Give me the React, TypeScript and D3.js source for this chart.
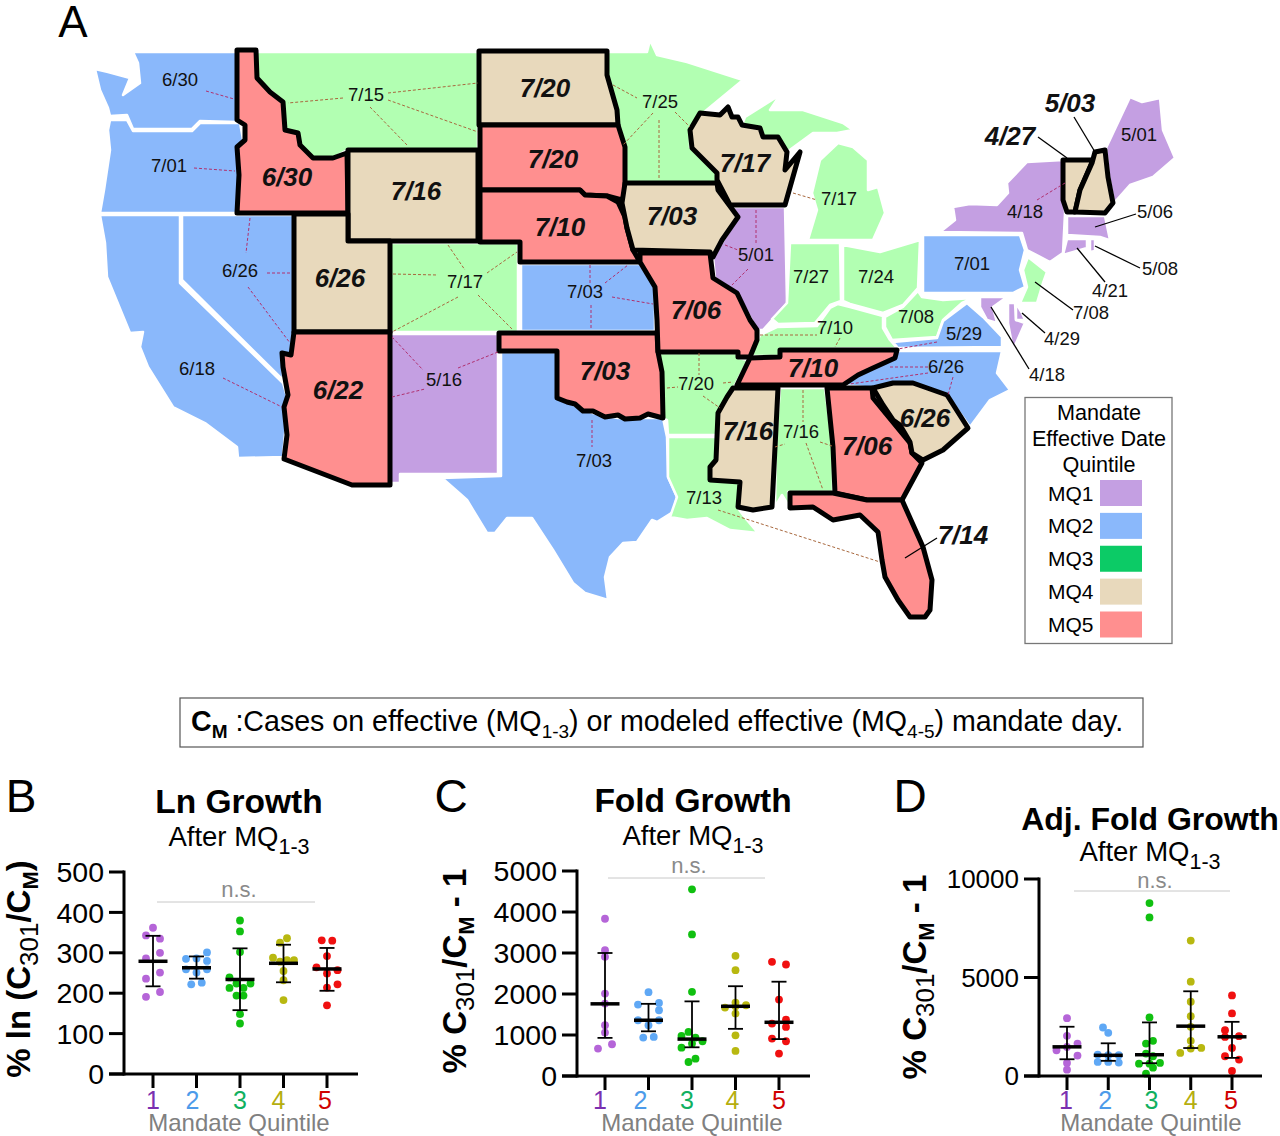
import React from "react";
import * as d3 from "d3";

type Pt = [number, number];
const FONT = "'Liberation Sans', Arial, sans-serif";

// ---------- map data (state outlines in map units) ----------
const outlineWA: Pt[] = [[133,52],[237,52],[237,122],[200,121],[192,129],[133,129],[127,115],[110,116],[108,108],[100,90],[95,69],[108,72],[130,78],[123,95],[140,83],[138,63]];
const outlineOR: Pt[] = [[110,120],[127,120],[133,131],[192,131],[200,123],[240,123],[245,150],[240,213],[100,213],[104,190],[110,150],[108,130]];
const outlineCA: Pt[] = [[100,215],[180,215],[180,283],[283,383],[288,400],[283,457],[238,458],[237,447],[205,423],[173,407],[148,367],[140,347],[143,332],[130,333],[107,277],[105,243]];
const outlineNV: Pt[] = [[182,215],[295,215],[295,332],[290,355],[283,353],[283,380],[182,280]];
const outlineID: Pt[] = [[237,50],[256,50],[257,78],[270,92],[283,102],[285,130],[298,133],[300,145],[313,158],[333,158],[347,153],[348,213],[237,213],[239,175],[237,147],[245,140],[245,125],[237,120]];
const outlineMT: Pt[] = [[256,52],[478,52],[478,150],[347,150],[333,158],[313,158],[300,145],[298,133],[285,130],[283,102],[257,78]];
const outlineWY: Pt[] = [[348,150],[478,150],[478,241],[348,241]];
const outlineUT: Pt[] = [[294,214],[348,214],[348,241],[390,241],[390,332],[294,332]];
const outlineCO: Pt[] = [[390,243],[518,243],[518,332],[390,332]];
const outlineAZ: Pt[] = [[294,332],[390,332],[390,485],[352,485],[284,459],[287,435],[284,407],[288,395],[283,367],[282,353],[291,355]];
const outlineNM: Pt[] = [[390,334],[498,334],[498,474],[400,474],[400,483],[390,483]];
const outlineTX: Pt[] = [[501,352],[557,352],[557,398],[567,402],[593,413],[618,418],[663,418],[667,437],[668,477],[677,497],[673,512],[657,522],[652,520],[637,542],[623,543],[610,557],[605,577],[608,600],[585,593],[573,583],[553,550],[532,518],[507,518],[495,533],[487,533],[467,500],[458,492],[442,478],[501,476]];
const outlineOK: Pt[] = [[499,333],[657,333],[658,352],[662,372],[663,418],[648,414],[640,418],[625,419],[618,415],[605,417],[593,411],[583,411],[575,404],[567,402],[557,398],[557,351],[499,351]];
const outlineKS: Pt[] = [[521,264],[640,264],[655,287],[655,331],[521,331]];
const outlineNE: Pt[] = [[480,190],[580,190],[585,195],[607,196],[618,202],[625,217],[627,228],[633,250],[640,262],[520,262],[520,242],[480,242]];
const outlineSD: Pt[] = [[480,125],[618,125],[625,147],[625,193],[622,200],[607,196],[585,195],[580,190],[480,190]];
const outlineND: Pt[] = [[479,51],[607,51],[607,75],[617,110],[618,125],[479,125]];
const outlineMN: Pt[] = [[608,52],[647,52],[650,40],[657,55],[687,62],[743,80],[703,113],[690,127],[690,147],[717,173],[717,183],[625,183],[625,147],[618,125],[617,110],[607,75]];
const outlineIA: Pt[] = [[625,183],[717,183],[718,190],[738,217],[722,240],[713,257],[710,252],[633,250],[627,228],[622,203]];
const outlineWI: Pt[] = [[690,130],[700,113],[720,115],[728,107],[732,117],[738,117],[742,125],[760,128],[763,137],[778,137],[787,152],[785,170],[800,152],[785,205],[730,205],[717,180],[717,173],[692,148]];
const outlineIL: Pt[] = [[730,207],[785,207],[787,303],[772,320],[763,330],[757,330],[750,317],[737,293],[715,278],[713,257],[738,217]];
const outlineMO: Pt[] = [[640,253],[710,253],[713,278],[737,293],[750,320],[757,330],[757,340],[750,357],[738,357],[738,352],[658,352],[657,320],[655,287],[640,262]];
const outlineAR: Pt[] = [[659,353],[738,353],[738,358],[748,360],[735,385],[727,397],[718,413],[717,435],[668,435],[667,420],[663,418],[662,372]];
const outlineLA: Pt[] = [[668,437],[717,437],[715,460],[710,480],[740,482],[737,507],[747,520],[758,533],[730,530],[707,518],[687,520],[670,517],[677,497],[668,477]];
const outlineMS: Pt[] = [[733,388],[778,388],[772,507],[753,510],[738,507],[740,482],[710,480],[710,467],[716,460],[718,413],[727,397]];
const outlineAL: Pt[] = [[780,388],[825,388],[833,447],[833,492],[788,492],[790,508],[782,495],[775,507],[776,440]];
const outlineTN: Pt[] = [[737,385],[750,358],[780,357],[780,350],[897,350],[895,358],[873,368],[858,375],[843,385]];
const outlineGA: Pt[] = [[827,388],[872,388],[873,398],[910,443],[912,453],[922,463],[902,500],[867,500],[835,493],[833,447]];
const outlineSC: Pt[] = [[873,388],[893,383],[913,383],[947,395],[968,428],[943,450],[923,460],[912,453],[910,442],[900,425],[893,420],[883,405]];
const outlineFL: Pt[] = [[790,493],[833,493],[867,500],[902,500],[923,547],[932,580],[930,610],[925,617],[910,617],[898,600],[885,577],[882,560],[878,532],[860,515],[833,520],[813,507],[790,508]];
const outlineKY: Pt[] = [[760,335],[777,327],[817,326],[830,308],[838,304],[850,307],[883,316],[883,328],[890,340],[897,348],[780,349],[780,356],[751,356]];
const outlineIN: Pt[] = [[790,243],[840,243],[841,301],[830,305],[815,323],[778,324],[772,319],[787,303]];
const outlineOH: Pt[] = [[843,245],[880,252],[920,240],[918,288],[903,305],[883,313],[850,304],[843,301]];
const outlineWV: Pt[] = [[885,317],[903,307],[918,291],[922,297],[943,300],[973,298],[962,303],[943,320],[937,337],[892,340],[885,327]];
const outlineVA: Pt[] = [[893,342],[937,338],[943,321],[967,303],[983,317],[1002,337],[1002,347],[898,348]];
const outlineNC: Pt[] = [[898,351],[1002,351],[997,373],[1010,390],[990,400],[970,427],[947,395],[913,383],[893,383],[873,388],[843,385],[858,375],[873,368],[895,358]];
const outlinePA: Pt[] = [[923,235],[1020,235],[1025,250],[1020,270],[1025,287],[1013,293],[923,293]];
const outlineNY: Pt[] = [[940,232],[955,220],[953,207],[970,204],[997,205],[1008,193],[1007,183],[1027,162],[1063,160],[1065,213],[1063,253],[1050,262],[1027,250],[1022,233]];
const outlineVT: Pt[] = [[1063,160],[1093,160],[1080,190],[1075,212],[1067,212],[1063,200]];
const outlineNH: Pt[] = [[1095,152],[1105,150],[1108,177],[1113,203],[1105,213],[1075,212],[1080,190],[1092,163]];
const outlineME: Pt[] = [[1106,148],[1130,97],[1142,102],[1160,98],[1163,130],[1175,158],[1153,177],[1130,185],[1114,203],[1109,177]];
const outlineMA: Pt[] = [[1067,216],[1105,216],[1110,240],[1118,243],[1100,237],[1067,235]];
const outlineCT: Pt[] = [[1067,239],[1087,239],[1087,248],[1063,255]];
const outlineRI: Pt[] = [[1090,239],[1095,239],[1095,251],[1090,252]];
const outlineNJ: Pt[] = [[1028,257],[1047,272],[1043,283],[1037,303],[1020,303],[1027,287],[1023,270]];
const outlineMD: Pt[] = [[980,297],[1007,297],[993,307],[997,323],[987,320],[980,307]];
const outlineDelmarva: Pt[] = [[1008,303],[1015,303],[1016,320],[1025,323],[1013,350],[1008,323]];
const outlineDE: Pt[] = [[1016,303],[1022,313],[1025,320],[1016,320]];
const outlineUP: Pt[] = [[745,117],[780,95],[770,110],[803,110],[843,123],[853,130],[837,133],[813,133],[787,152],[778,137],[763,137],[760,128],[742,125]];
const outlineLP: Pt[] = [[808,240],[817,210],[812,193],[820,160],[838,143],[853,147],[868,160],[868,190],[878,187],[885,213],[873,240]];
const outlineLI: Pt[] = [[1057,266],[1070,262],[1070,264],[1058,268]];

const plainStates: [string, Pt[], number][] = [
  ["WA", outlineWA, 2], ["OR", outlineOR, 2], ["CA", outlineCA, 2], ["NV", outlineNV, 2],
  ["MT", outlineMT, 3], ["CO", outlineCO, 3], ["NM", outlineNM, 1], ["TX", outlineTX, 2],
  ["KS", outlineKS, 2], ["MN", outlineMN, 3], ["IL", outlineIL, 1], ["AR", outlineAR, 3],
  ["LA", outlineLA, 3], ["AL", outlineAL, 3], ["KY", outlineKY, 3], ["IN", outlineIN, 3],
  ["OH", outlineOH, 3], ["WV", outlineWV, 3], ["VA", outlineVA, 2], ["NC", outlineNC, 2],
  ["PA", outlinePA, 2], ["NY", outlineNY, 1], ["ME", outlineME, 1], ["MA", outlineMA, 1],
  ["CT", outlineCT, 1], ["RI", outlineRI, 1], ["NJ", outlineNJ, 3], ["MD", outlineMD, 1],
  ["MDe", outlineDelmarva, 1], ["DE", outlineDE, 1], ["MIu", outlineUP, 3], ["MIl", outlineLP, 3],
  ["LI", outlineLI, 1],
];
const boldStates: [string, Pt[], number][] = [
  ["ID", outlineID, 5], ["WY", outlineWY, 4], ["UT", outlineUT, 4], ["AZ", outlineAZ, 5],
  ["ND", outlineND, 4], ["SD", outlineSD, 5], ["NE", outlineNE, 5], ["OK", outlineOK, 5],
  ["IA", outlineIA, 4], ["WI", outlineWI, 4], ["MO", outlineMO, 5], ["TN", outlineTN, 5],
  ["MS", outlineMS, 4], ["GA", outlineGA, 5], ["SC", outlineSC, 4], ["FL", outlineFL, 5],
  ["VT", outlineVT, 4], ["NH", outlineNH, 4],
];
const mapColors = ["", "#C49FE2", "#8AB8FB", "#B2FFB2", "#E8D9BC", "#FF8F8F"];

const plainLabels: [string, number, number][] = [
  ["6/30",180,79],["7/01",169,165],["7/15",366,94],["6/26",240,270],["6/18",197,368],["7/17",465,281],
  ["5/16",444,379],["7/03",585,291],["7/25",660,101],["5/01",756,254],["7/17",839,198],["7/27",811,276],
  ["7/24",876,276],["7/08",916,316],["7/10",835,327],["7/20",696,383],["7/03",594,460],["7/16",801,431],
  ["7/13",704,497],["5/29",964,333],["6/26",946,366],["7/01",972,263],["5/01",1139,134],["4/18",1025,211],
  ["5/06",1155,211],["5/08",1160,268],["4/21",1110,290],["7/08",1091,312],["4/29",1062,338],["4/18",1047,374],
];
const boldLabels: [string, number, number][] = [
  ["6/30",287,177],["7/16",416,191],["7/20",545,88],["7/20",553,159],["7/10",560,227],["6/26",340,278],
  ["6/22",338,390],["7/17",745,163],["7/03",672,216],["7/06",696,310],["7/03",605,371],["7/10",813,368],
  ["7/16",748,431],["7/06",867,446],["6/26",925,418],["7/14",963,535],["4/27",1010,136],["5/03",1070,103],
];
const greenLeaders: number[][] = [
  [343,98,288,103],[388,93,478,83],[388,100,478,132],[370,107,407,145],[448,245,465,270],[393,274,438,275],
  [487,273,517,252],[458,297,392,332],[478,295,513,330],[613,85,637,98],[653,113,623,145],[659,120,659,180],
  [675,112,690,127],[793,193,817,200],[760,335,817,335],[840,338,835,347],[699,353,699,375],[667,388,678,387],
  [723,383,733,382],[703,396,720,408],[803,390,803,422],[775,447,785,444],[820,442,832,446],[806,443,823,490],
  [718,510,880,562],
];
const purpleLeaders: number[][] = [
  [206,91,234,99],[194,168,235,171],[250,218,246,253],[267,273,292,273],[248,287,290,343],[223,378,282,407],
  [392,337,423,370],[392,397,425,389],[458,368,498,352],[590,265,590,283],[605,283,628,265],[612,297,653,304],
  [591,305,591,330],[756,210,756,243],[725,245,738,250],[748,269,732,285],[937,342,898,349],[928,367,888,367],
  [928,373,850,384],[953,377,948,395],[1037,200,1065,183],[592,420,592,447],
];
const blackLeaders: number[][] = [
  [937,538,905,558],[1038,137,1067,158],[1074,117,1095,152],[1136,214,1095,227],[1140,268,1095,246],
  [1105,282,1077,248],[1073,310,1035,282],[1045,333,1022,313],[1029,369,991,307],
];

const legendNames = ["MQ1","MQ2","MQ3","MQ4","MQ5"];
const legendColors = ["#C49FE2","#8AB8FB","#0CCB66","#E8D9BC","#FF8F8F"];
const legendTitle = ["Mandate","Effective Date","Quintile"];

// ---------- scatter panel data ----------
const quintiles = [1,2,3,4,5];
const dotColors = ["#B565D8","#5FA8F5","#10C010","#B8B810","#F01010"];
const labelColors = ["#7B2FB0","#4D9BEA","#10B060","#B5AE10","#D00000"];

const valuesB = [
  [362,343,335,300,286,251,236,203,191],
  [301,285,286,280,259,259,251,222,226],
  [380,353,302,239,224,224,213,213,194,194,148,125],
  [336,325,288,282,282,278,255,232,183],
  [331,330,292,264,257,249,222,214,170],
];
const slotsB = [
  [0,-2,2,2,-2,2,-2,2,-2],
  [3,-3,0,3,-3,3,0,-1.5,1.5],
  [0,0,0,-3,-1,3,-3,1,-1,1,0,0],
  [1,-1,-3,1,3,-1,0,0,0],
  [-1.5,1.5,0,-3,3,0,3,0,0],
];
const meansB = [279,263,234,274,260];
const highB = [342,291,311,320,312];
const lowB = [217,236,158,227,206];

const valuesC = [
  [3835,3070,2907,2011,1767,1238,1059,668,774],
  [2044,1743,1783,1604,1360,1360,1238,936,953],
  [4552,3453,2052,1075,977,936,847,790,692,423,342],
  [2932,2581,1792,1669,1726,1700,1523,993,611],
  [2785,2720,1865,1376,1278,1197,912,847,546],
];
const slotsC = [
  [0,0,0,0,0,0,0,-2,2],
  [0,-3,3,3,-3,3,0,-1.5,1.5],
  [0,0,0,-1,-3,1,3,0,-3,1,-1],
  [0,0,0,-3,3,0,0,0,0],
  [-2,2,0,2,-2,2,-2,2,0],
];
const meansC = [1760,1360,900,1700,1310];
const highC = [3000,1760,1820,2190,2300];
const lowC = [930,1090,700,1150,900];

const valuesD = [
  [2937,2037,1647,1477,1307,1036,662,323],
  [2462,2190,1087,1053,1053,713,679,713],
  [8778,8048,2971,1783,1647,1138,1002,628,628,662,424,119],
  [6876,4788,3769,3039,2496,1783,1426,1392,1171],
  [4092,3175,2326,2020,1986,1426,1002,832,255],
];
const slotsD = [
  [0,0,3,0,-3,3,0,0],
  [-1.5,0,-3,0,3,-3,3,0],
  [0,0,0,1,-1,-1,1,-3,0,3,1,-1],
  [0,0,0,0,0,0,3,0,-3],
  [0,0,-2,2,-2,0,-2,2,0],
];
const meansD = [1480,1050,1080,2530,1990];
const highD = [2500,1660,2720,4300,2750];
const lowD = [850,770,650,1420,920];

const ticksB = [0,100,200,300,400,500];
const ticksC = [0,1000,2000,3000,4000,5000];
const ticksD = [0,5000,10000];

function Sub({ x, y, text, sub, rest, size, subSize, anchor = "middle", weight = "normal", fill = "#000" }: any) {
  return (
    <text x={x} y={y} fontSize={size} fontFamily={FONT} textAnchor={anchor} fontWeight={weight} fill={fill}>
      {text}<tspan fontSize={subSize} dy={size * 0.28}>{sub}</tspan>
      {rest ? <tspan dy={-size * 0.28}>{rest}</tspan> : null}
    </text>
  );
}

function Panel({ p }: { p: any }) {
  const y = d3.scaleLinear().domain([0, p.yMax]).range([p.y0, p.yTop]);
  const x = d3.scalePoint<number>().domain(quintiles).range([p.xFirst, p.xLast]);
  const step = 3.5;
  return (
    <g fontFamily={FONT}>
      <text x={p.letterX} y={p.letterY} fontSize={46} fill="#000" textAnchor="middle">{p.letter}</text>
      <text x={p.titleX} y={p.titleY} fontSize={p.titleSize} fontWeight="bold" textAnchor="middle">{p.title}</text>
      <Sub x={p.titleX} y={p.subY} text="After MQ" sub="1-3" size={27.5} subSize={21.5} />
      <text x={p.nsX} y={p.nsY} fontSize={22} fill="#8a8a8a" textAnchor="middle">n.s.</text>
      <line x1={p.nsL} x2={p.nsR} y1={p.nsLine} y2={p.nsLine} stroke="#c8c8c8" strokeWidth={1} />
      {quintiles.map((q, i) => (
        <g key={q}>
          {p.values[i].map((v: number, j: number) => (
            <circle key={j} cx={x(q)! + p.slots[i][j] * step} cy={y(v)} r={3.9} fill={dotColors[i]} />
          ))}
        </g>
      ))}
      {quintiles.map((q, i) => (
        <g key={q} stroke="#000">
          <line x1={x(q)} x2={x(q)} y1={y(p.high[i])} y2={y(p.low[i])} strokeWidth={1.8} />
          <line x1={x(q)! - 7.5} x2={x(q)! + 7.5} y1={y(p.high[i])} y2={y(p.high[i])} strokeWidth={1.8} />
          <line x1={x(q)! - 7.5} x2={x(q)! + 7.5} y1={y(p.low[i])} y2={y(p.low[i])} strokeWidth={1.8} />
          <line x1={x(q)! - 14.5} x2={x(q)! + 14.5} y1={y(p.means[i])} y2={y(p.means[i])} strokeWidth={3.5} />
          <line x1={x(q)} x2={x(q)} y1={p.y0} y2={p.y0 + 14} strokeWidth={3} />
        </g>
      ))}
      <line x1={p.axisX} x2={p.axisX} y1={y(p.yMax) - 1.5} y2={p.y0 + 1.5} stroke="#000" strokeWidth={3} />
      <line x1={p.axisX - 15} x2={p.xEnd} y1={p.y0} y2={p.y0} stroke="#000" strokeWidth={3} />
      {p.ticks.map((t: number) => (
        <g key={t}>
          <line x1={p.axisX - 15} x2={p.axisX} y1={y(t)} y2={y(t)} stroke="#000" strokeWidth={3} />
          <text x={p.axisX - 20} y={y(t)} dy="0.36em" fontSize={p.tickSize} textAnchor="end">{t}</text>
        </g>
      ))}
      {quintiles.map((q, i) => (
        <text key={q} x={x(q)! + p.labelShift[i]} y={1109} fontSize={25} fill={labelColors[i]} textAnchor="middle">{q}</text>
      ))}
      <text x={p.xLabelX} y={1131} fontSize={24} fill="#808080" textAnchor="middle">Mandate Quintile</text>
      <g transform={`translate(${p.yLabelX},${p.yLabelY}) rotate(-90)`}>
        <text x={0} y={0} fontSize={33} fontWeight="bold" textAnchor="middle" fontFamily={FONT}>
          {p.yPrefix}C<tspan fontSize={26} dy={8} fontWeight="normal">301</tspan>
          <tspan dy={-8}>/C</tspan><tspan fontSize={22} dy={8}>M</tspan>
          <tspan dy={-8}>{p.ySuffix}</tspan>
        </text>
      </g>
    </g>
  );
}

const panels = [
  { letter:"B", letterX:21, letterY:812, title:"Ln Growth", titleSize:33.5, titleX:239, titleY:813, subY:846, nsX:239, nsY:897, nsL:157, nsR:315, nsLine:902,
    y0:1074, yTop:872, yMax:500, xFirst:153, xLast:327, axisX:124, xEnd:358, tickSize:28.5, ticks:ticksB, values:valuesB, slots:slotsB, means:meansB, high:highB, low:lowB,
    labelShift:[0,-4,0,-5,-2], xLabelX:239, yLabelX:30, yLabelY:969, yPrefix:"% ln (", ySuffix:")" },
  { letter:"C", letterX:451, letterY:812, title:"Fold Growth", titleSize:33.5, titleX:693, titleY:812, subY:845, nsX:689, nsY:873, nsL:608, nsR:765, nsLine:878,
    y0:1076, yTop:871, yMax:5000, xFirst:605, xLast:779, axisX:577, xEnd:810, tickSize:28.5, ticks:ticksC, values:valuesC, slots:slotsC, means:meansC, high:highC, low:lowC,
    labelShift:[-5,-8,-5,-3,0], xLabelX:692, yLabelX:466, yLabelY:971, yPrefix:"% ", ySuffix:" - 1" },
  { letter:"D", letterX:910, letterY:812, title:"Adj. Fold Growth", titleSize:32, titleX:1150, titleY:830, subY:861, nsX:1155, nsY:888, nsL:1074, nsR:1230, nsLine:891,
    y0:1076, yTop:879, yMax:10000, xFirst:1067, xLast:1232, axisX:1039, xEnd:1262, tickSize:26, ticks:ticksD, values:valuesD, slots:slotsD, means:meansD, high:highD, low:lowD,
    labelShift:[-1,-3,2,0,-1], xLabelX:1151, yLabelX:926, yLabelY:977, yPrefix:"% ", ySuffix:" - 1" },
];

export default function App() {
  const path = d3.geoPath(d3.geoIdentity());
  const d = (pts: Pt[]) => path({ type: "Polygon", coordinates: [[...pts, pts[0]]] } as any) as string;
  return (
    <svg width={1280} height={1136} viewBox="0 0 1280 1136"
      style={{ position: "absolute", left: 0, top: 0, display: "block", background: "#fff" }} fontFamily={FONT}>
      <text x={73} y={37} fontSize={44} textAnchor="middle">A</text>
      {plainStates.map(([n, pts, q]) => (
        <path key={n} d={d(pts)} fill={mapColors[q]} stroke="#fff" strokeWidth={2.5} strokeLinejoin="round" />
      ))}
      {boldStates.map(([n, pts, q]) => (
        <path key={n} d={d(pts)} fill={mapColors[q]} stroke="#000" strokeWidth={5} strokeLinejoin="round" />
      ))}
      {greenLeaders.map((l, i) => (
        <line key={i} x1={l[0]} y1={l[1]} x2={l[2]} y2={l[3]} stroke="#A8683E" strokeWidth={1} strokeDasharray="3 2" />
      ))}
      {purpleLeaders.map((l, i) => (
        <line key={i} x1={l[0]} y1={l[1]} x2={l[2]} y2={l[3]} stroke="#B0306E" strokeWidth={1} strokeDasharray="3 2" />
      ))}
      {blackLeaders.map((l, i) => (
        <line key={i} x1={l[0]} y1={l[1]} x2={l[2]} y2={l[3]} stroke="#000" strokeWidth={1.3} />
      ))}
      {plainLabels.map(([t, x, y], i) => (
        <text key={i} x={x} y={y} dy="0.36em" fontSize={18.5} textAnchor="middle" fill="#111">{t}</text>
      ))}
      {boldLabels.map(([t, x, y], i) => (
        <text key={i} x={x} y={y} dy="0.36em" fontSize={26} fontWeight="bold" fontStyle="italic" textAnchor="middle" fill="#111">{t}</text>
      ))}

      <rect x={1025} y={397.5} width={147} height={246} fill="#fff" stroke="#777" strokeWidth={1.3} />
      {legendTitle.map((t, i) => (
        <text key={t} x={1099} y={412 + i * 26} dy="0.36em" fontSize={21.6} textAnchor="middle">{t}</text>
      ))}
      {legendNames.map((n, i) => {
        const ly = d3.scaleLinear().domain([0, 4]).range([493, 624.5])(i);
        return (
          <g key={n}>
            <text x={1048} y={ly} dy="0.36em" fontSize={21}>{n}</text>
            <rect x={1100} y={ly - 13} width={42} height={26} fill={legendColors[i]} />
          </g>
        );
      })}

      <rect x={180} y={698} width={963} height={49} fill="#fff" stroke="#555" strokeWidth={1.2} />
      <text x={191} y={731} fontSize={28.6} fontFamily={FONT}>
        <tspan fontWeight="bold">C</tspan><tspan fontWeight="bold" fontSize={19} dy={7}>M</tspan>
        <tspan dy={-7}> :Cases on effective (MQ</tspan><tspan fontSize={19} dy={7}>1-3</tspan>
        <tspan dy={-7}>) or modeled effective (MQ</tspan><tspan fontSize={19} dy={7}>4-5</tspan>
        <tspan dy={-7}>) mandate day.</tspan>
      </text>
      {panels.map((p) => <Panel key={p.letter} p={p} />)}
    </svg>
  );
}
